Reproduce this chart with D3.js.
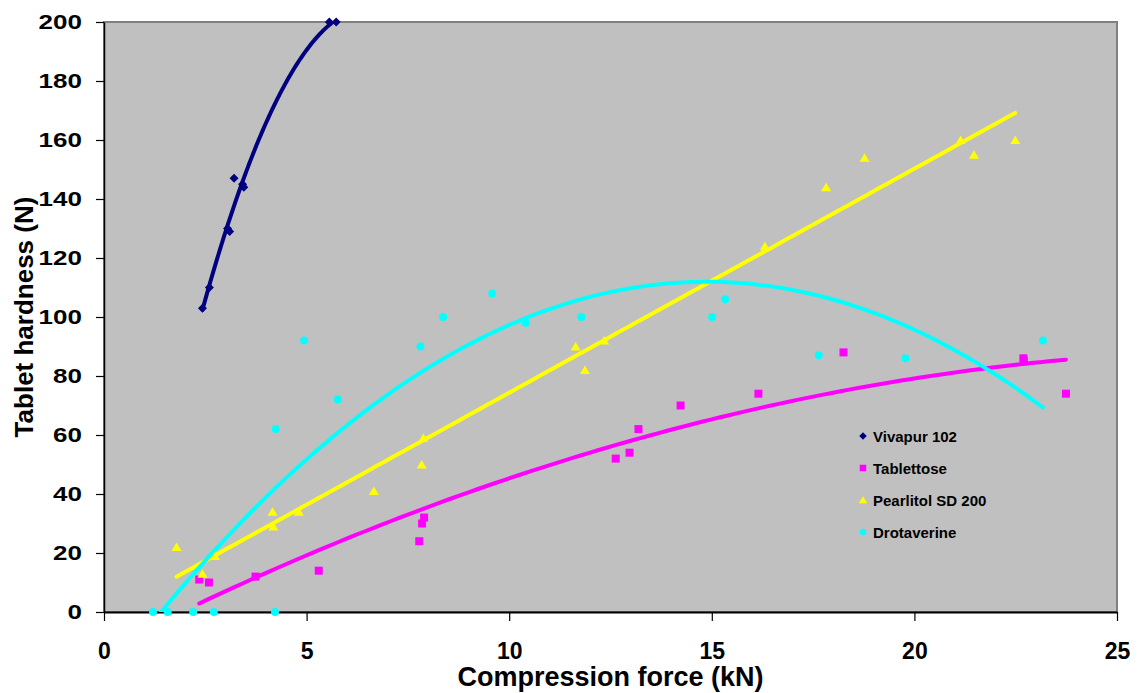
<!DOCTYPE html>
<html>
<head>
<meta charset="utf-8">
<script src="https://cdn.jsdelivr.net/npm/d3@7"></script>
<style>
  body { margin: 0; background: #fff; }
  svg { display: block; font-family: "Liberation Sans", Arial, sans-serif; font-weight: bold; }
</style>
</head>
<body>
<svg id="chart" width="1141" height="693"></svg>
<script>
// data
var seriesNames = ["Vivapur 102", "Tablettose", "Pearlitol SD 200", "Drotaverine"];
var vivapurX = [2.43, 2.6, 3.05, 3.1, 3.21, 3.42, 3.45, 5.56, 5.73];
var vivapurY = [103, 110, 130, 129, 147, 145, 144, 200, 200];
var tablettoseX = [2.35, 2.59, 3.74, 5.3, 7.78, 7.85, 7.9, 12.63, 12.97, 13.19, 14.23, 16.15, 18.25, 22.69, 22.7, 23.74];
var tablettoseY = [11, 10, 12, 14, 24, 30, 32, 52, 54, 62, 70, 74, 88, 86, 85, 74];
var pearlitolX = [1.79, 2.43, 2.74, 4.16, 4.18, 4.81, 6.66, 7.84, 7.88, 11.64, 11.87, 12.34, 16.31, 17.82, 18.77, 21.14, 21.47, 22.49];
var pearlitolY = [22, 13, 19, 34, 29, 34, 41, 50, 59, 90, 82, 92, 124, 144, 154, 160, 155, 160];
var drotaverineX = [1.21, 1.57, 2.2, 2.71, 4.22, 4.24, 4.94, 5.77, 7.81, 8.37, 9.58, 10.41, 11.78, 15.01, 15.33, 17.64, 19.78, 23.17];
var drotaverineY = [0, 0, 0, 0, 0, 62, 92, 72, 90, 100, 108, 98, 100, 100, 106, 87, 86, 92];
var trendOrder = [2, 2, 1, 2];
var xTicks = [0, 5, 10, 15, 20, 25];
var yTicks = [0, 20, 40, 60, 80, 100, 120, 140, 160, 180, 200];

var colors = ["#000080", "#FF00FF", "#FFFF00", "#00FFFF"];
var shapes = ["diamond", "square", "triangle", "circle"];

var series = [
  {xs: vivapurX, ys: vivapurY},
  {xs: tablettoseX, ys: tablettoseY},
  {xs: pearlitolX, ys: pearlitolY},
  {xs: drotaverineX, ys: drotaverineY}
];

var plotL = 104, plotR = 1117, plotT = 22, plotB = 612;

var svg = d3.select("#chart");
var xScale = d3.scaleLinear().domain([0, 25]).range([plotL, plotR]);
var yScale = d3.scaleLinear().domain([0, 200]).range([plotB, plotT]);

// least squares polynomial (order 1 or 2), like the spreadsheet trendline
function polyFit(xs, ys, order) {
  var n = order + 1;
  var A = [], B = [];
  for (var r = 0; r < n; r++) {
    A.push([]);
    for (var c = 0; c < n; c++) {
      A[r].push(d3.sum(xs, function(x) { return Math.pow(x, r + c); }));
    }
    B.push(d3.sum(xs, function(x, i) { return ys[i] * Math.pow(x, r); }));
  }
  // gauss elimination
  for (var i = 0; i < n; i++) {
    for (var k = i + 1; k < n; k++) {
      var f = A[k][i] / A[i][i];
      for (var j = i; j < n; j++) A[k][j] -= f * A[i][j];
      B[k] -= f * B[i];
    }
  }
  var coef = new Array(n);
  for (var i = n - 1; i >= 0; i--) {
    var s = B[i];
    for (var j = i + 1; j < n; j++) s -= A[i][j] * coef[j];
    coef[i] = s / A[i][i];
  }
  return function(x) {
    return d3.sum(coef, function(c, p) { return c * Math.pow(x, p); });
  };
}

// plot area
svg.append("rect")
  .attr("x", plotL).attr("y", plotT)
  .attr("width", plotR - plotL).attr("height", plotB - plotT)
  .attr("fill", "#C0C0C0")
  .attr("stroke", "#808080")
  .attr("stroke-width", 2);

svg.append("clipPath").attr("id", "plotClip")
  .append("rect")
  .attr("x", plotL).attr("y", plotT)
  .attr("width", plotR - plotL).attr("height", plotB - plotT);

// axes
var yAxis = svg.append("g")
  .attr("transform", "translate(" + plotL + ",0)")
  .call(d3.axisLeft(yScale).tickValues(yTicks).tickSize(8).tickPadding(9).tickSizeOuter(0));
yAxis.select(".domain").attr("stroke", "#000").attr("stroke-width", 1.5);
yAxis.selectAll("line").attr("stroke", "#000").attr("stroke-width", 1.2);
yAxis.selectAll("text")
  .attr("font-size", 20)
  .attr("font-family", null)
  .attr("fill", "#000")
  .attr("transform", "scale(1.3,1)");

var xAxis = svg.append("g")
  .attr("transform", "translate(0," + plotB + ")")
  .call(d3.axisBottom(xScale).tickValues(xTicks).tickSize(9).tickPadding(22).tickSizeOuter(0));
xAxis.select(".domain").attr("stroke", "#000").attr("stroke-width", 2);
xAxis.selectAll("line").attr("stroke", "#000").attr("stroke-width", 1.2);
xAxis.selectAll("text")
  .attr("font-size", 23)
  .attr("font-family", null)
  .attr("fill", "#000");

svg.append("text")
  .attr("x", (plotL + plotR) / 2)
  .attr("y", 686)
  .attr("text-anchor", "middle")
  .attr("font-size", 27)
  .text("Compression force (kN)");

svg.append("text")
  .attr("transform", "translate(33," + ((plotT + plotB) / 2) + ") rotate(-90)")
  .attr("text-anchor", "middle")
  .attr("font-size", 26)
  .text("Tablet hardness (N)");

// markers
function marker(sel, shape, s, color) {
  if (shape === "circle") {
    sel.append("circle").attr("r", s / 2).attr("fill", color);
  } else if (shape === "square") {
    sel.append("rect").attr("x", -s / 2).attr("y", -s / 2)
      .attr("width", s).attr("height", s).attr("fill", color);
  } else if (shape === "triangle") {
    sel.append("path").attr("d", "M0," + (-s / 2 - 0.5) + "L" + (s / 2 + 1) + "," + (s / 2) + "L" + (-s / 2 - 1) + "," + (s / 2) + "Z")
      .attr("fill", color);
  } else {
    var h = s / 2 + 0.5;
    sel.append("path").attr("d", "M0," + (-h) + "L" + h + ",0L0," + h + "L" + (-h) + ",0Z")
      .attr("fill", color);
  }
}

var line = d3.line()
  .x(function(d) { return xScale(d[0]); })
  .y(function(d) { return yScale(d[1]); });

var plot = svg.append("g").attr("clip-path", "url(#plotClip)");

// points first, trend lines above
series.forEach(function(s, k) {
  var pts = s.xs.map(function(x, i) { return [x, s.ys[i]]; });
  var g = svg.append("g");
  pts.forEach(function(p) {
    var m = g.append("g").attr("transform", "translate(" + xScale(p[0]) + "," + yScale(p[1]) + ")");
    marker(m, shapes[k], 8, colors[k]);
  });
});

series.forEach(function(s, k) {
  var fit = polyFit(s.xs, s.ys, trendOrder[k]);
  var x0 = d3.min(s.xs), x1 = d3.max(s.xs);
  var curve = d3.range(0, 101).map(function(i) {
    var x = x0 + (x1 - x0) * i / 100;
    return [x, fit(x)];
  });
  plot.append("path")
    .attr("d", line(curve))
    .attr("fill", "none")
    .attr("stroke", colors[k])
    .attr("stroke-width", 4)
    .attr("stroke-linecap", "round");
});

// legend
var legend = svg.append("g");
seriesNames.forEach(function(name, k) {
  var row = legend.append("g").attr("transform", "translate(863," + (436 + k * 32) + ")");
  marker(row, shapes[k], 6.5, colors[k]);
  row.append("text")
    .attr("x", 10)
    .attr("y", 5.5)
    .attr("font-size", 15)
    .attr("fill", "#000")
    .text(name);
});
</script>
</body>
</html>
